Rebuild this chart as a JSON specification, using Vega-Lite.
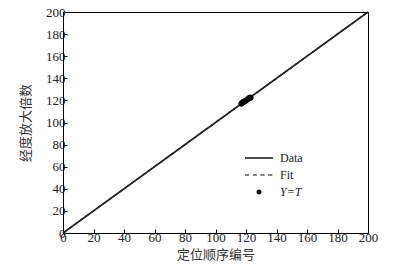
{
  "$schema": "https://vega.github.io/schema/vega-lite/v6.json",
  "width": 305,
  "height": 221,
  "autosize": "none",
  "padding": {"left": 63, "top": 12, "right": 25, "bottom": 45},
  "background": "white",
  "config": {
    "view": {"stroke": "black", "strokeWidth": 1},
    "font": "Liberation Serif",
    "axis": {
      "grid": false,
      "domainColor": "black",
      "tickColor": "black",
      "labelFont": "Liberation Serif",
      "labelFontSize": 13,
      "labelColor": "#222",
      "titleFont": "Noto Sans CJK SC",
      "titleFontSize": 13,
      "titleFontWeight": "normal",
      "titleColor": "#333"
    }
  },
  "datasets": {
    "line": [{"x": 0, "y": 0}, {"x": 200, "y": 200}],
    "dots": [
      {"x": 117, "y": 117, "series": "Y=T"},
      {"x": 118, "y": 118.5, "series": "Y=T"},
      {"x": 119, "y": 119, "series": "Y=T"},
      {"x": 120, "y": 120, "series": "Y=T"},
      {"x": 121, "y": 121, "series": "Y=T"},
      {"x": 122, "y": 122, "series": "Y=T"},
      {"x": 123, "y": 122.5, "series": "Y=T"}
    ]
  },
  "encoding": {
    "x": {"field": "x", "type": "quantitative", "scale": {"domain": [0, 200], "nice": false},
          "axis": {"values": [0,20,40,60,80,100,120,140,160,180,200], "labelOverlap": false, "labelFlush": false, "tickSize": -4, "title": "定位顺序编号", "labelPadding": 2, "titlePadding": 4}},
    "y": {"field": "y", "type": "quantitative", "scale": {"domain": [0, 200], "nice": false},
          "axis": {"values": [0,20,40,60,80,100,120,140,160,180,200], "labelOverlap": false, "labelFlush": false, "tickSize": -4, "title": "经度放大倍数", "labelPadding": 2, "titlePadding": 13}}
  },
  "layer": [
    {
      "data": {"name": "line"},
      "mark": {"type": "line", "color": "#222", "strokeWidth": 1.6}
    },
    {
      "data": {"name": "line"},
      "mark": {"type": "line", "color": "#222", "strokeWidth": 1.2, "strokeDash": [4, 3]}
    },
    {
      "data": {"name": "dots"},
      "mark": {"type": "point", "filled": true, "color": "black", "opacity": 1, "size": 300},
      "encoding": {
        "shape": {
          "field": "series", "type": "nominal",
          "scale": {
            "domain": ["Data", "Fit", "Y=T"],
            "range": [
              "M-2,-0.1L2,-0.1L2,0.1L-2,0.1Z",
              "M-2,-0.08L-1.4,-0.08L-1.4,0.08L-2,0.08ZM-0.9,-0.08L-0.3,-0.08L-0.3,0.08L-0.9,0.08ZM0.2,-0.08L0.8,-0.08L0.8,0.08L0.2,0.08ZM1.3,-0.08L1.9,-0.08L1.9,0.08L1.3,0.08Z",
              "M0,-0.36A0.36,0.36 0 1,1 0,0.36A0.36,0.36 0 1,1 0,-0.36Z"
            ]
          },
          "legend": {
            "title": null,
            "orient": "none",
            "legendX": 188,
            "legendY": 138,
            "symbolSize": 196,
            "symbolFillColor": "black",
            "symbolOpacity": 1,
            "labelFont": "Liberation Serif",
            "labelFontSize": 12,
            "labelColor": "#222",
            "labelOffset": 13,
            "rowPadding": 3,
            "labelFontStyle": {"expr": "datum.label == 'Y=T' ? 'italic' : 'normal'"}
          }
        }
      }
    }
  ]
}
